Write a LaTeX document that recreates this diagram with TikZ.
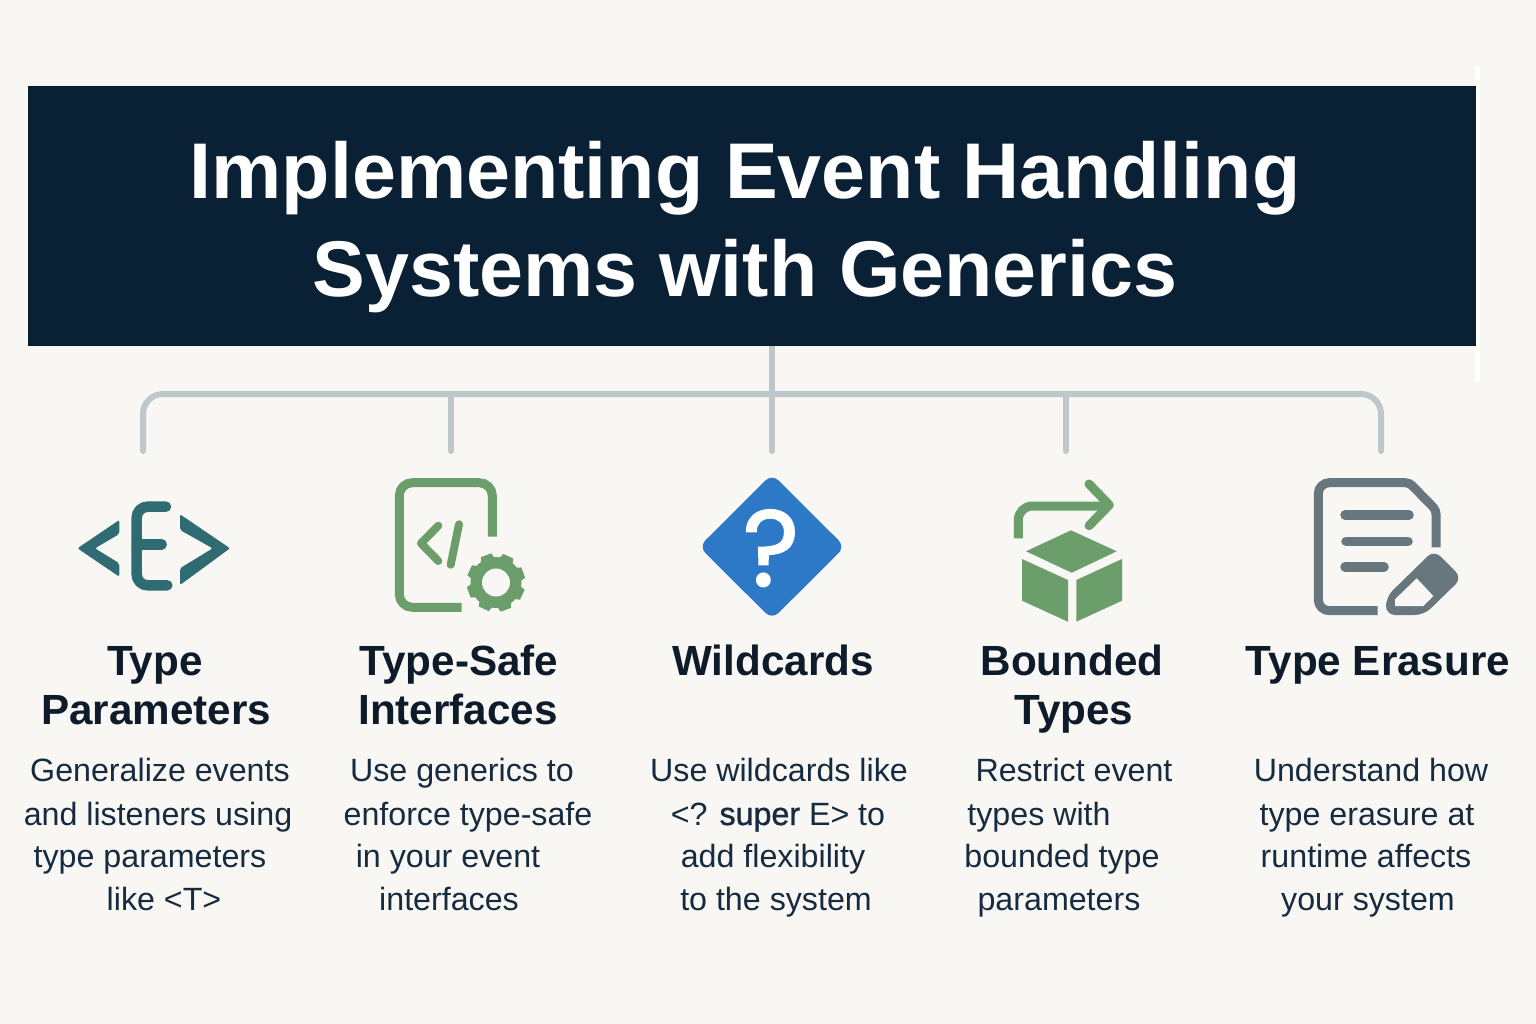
\documentclass[tikz,border=0pt]{standalone}
\usepackage{fontspec}
\setmainfont{Liberation Sans}
\newfontfamily\semibold[FakeBold=1]{Liberation Sans}
\newfontfamily\roundbold[FakeBold=1.5]{Poppins}
\definecolor{bgc}{HTML}{F8F7F3}
\definecolor{navy}{HTML}{0A2035}
\definecolor{navyedge}{HTML}{051626}
\definecolor{linkc}{HTML}{BEC7CC}
\definecolor{teal}{HTML}{2F6B73}
\definecolor{leaf}{HTML}{6B9E6B}
\definecolor{azure}{HTML}{2E78C8}
\definecolor{slate}{HTML}{68777E}
\definecolor{ink}{HTML}{0D1B2A}
\definecolor{bodyc}{HTML}{172B40}
\tikzset{
  titletext/.style={anchor=base,inner sep=0pt,text=white,font=\fontsize{79}{90}\selectfont\bfseries},
  headtext/.style={anchor=base,inner sep=0pt,text=ink,font=\fontsize{42.2}{50}\selectfont\bfseries},
  bodytext/.style={anchor=base,inner sep=0pt,text=bodyc,font=\fontsize{32.2}{40}\selectfont},
  link/.style={draw=linkc,line width=6pt,line cap=round},
}
\begin{document}
\begin{tikzpicture}[x=1pt,y=-1pt]
\useasboundingbox (0,0) rectangle (1536,1024);
\fill[bgc] (0,0) rectangle (1536,1024);
% title
\fill[white] (1475,66) rectangle (1480,382);
\node[fill=navy,minimum width=1448pt,minimum height=260pt,inner sep=0pt] (title) at (752,216) {};
\draw[navyedge,line width=1.5pt] ([yshift=-0.75pt]title.north west) -- ([yshift=-0.75pt]title.north east);
\draw[navyedge,line width=1.5pt] ([yshift=0.75pt]title.south west) -- ([yshift=0.75pt]title.south east);
\node[titletext] (t1) at (745,199) {Implementing Event Handling};
\node[titletext] (t2) at (745,296) {Systems with Generics};
% connectors
\coordinate (hub) at (772,394);
\coordinate (b1) at (143,451);
\coordinate (b2) at (451,451);
\coordinate (b3) at (772,451);
\coordinate (b4) at (1066,451);
\coordinate (b5) at (1381,451);
\draw[link,rounded corners=20pt] (b1) |- (hub) -| (b5);
\draw[link,line cap=butt] (title.south -| hub) -- (hub);
\draw[link] (b2 |- hub) -- (b2);
\draw[link] (hub) -- (b3);
\draw[link] (b4 |- hub) -- (b4);
% E icon
\fill[teal,rounded corners=2pt] (119.3,520) -- (77.5,548.3) -- (119.3,576.7) -- (119.3,563.3) -- (95,548.3) -- (119.3,534) -- cycle;
\fill[teal,rounded corners=2pt] (180,514.3) -- (230,548.3) -- (180,585) -- (180,568.3) -- (212.7,548.3) -- (180,530) -- cycle;
\draw[teal,line width=10.5pt,line cap=round,rounded corners=11pt] (166,506.7) -- (136.7,506.7) -- (136.7,585.3) -- (167.3,585.3);
\draw[teal,line width=10.5pt,line cap=round] (136.7,544.3) -- (161.7,544.3);
% code document icon
\draw[leaf,line width=9pt,rounded corners=13pt] (461.7,607.3) -- (399.3,607.3) -- (399.3,482.7) -- (492.3,482.7) -- (492.3,536.7);
\draw[leaf,line width=8pt,line cap=round,line join=round] (438.3,525.7) -- (421,543.3) -- (438.3,561);
\draw[leaf,line width=8pt,line cap=round] (459,524.3) -- (450.7,564.7);
\fill[leaf] (496,582.5) circle (25.5pt);
\foreach \a in {0,45,...,315}{
  \fill[leaf,rotate around={\a+20:(496,582.5)}] (490.5,553.5) -- (501.5,553.5) -- (504,562) -- (488,562) -- cycle;
}
\fill[bgc] (496,582.5) circle (14pt);
% diamond icon
\fill[azure,rounded corners=9pt] (772,474) -- (845,546.7) -- (772,619.4) -- (699,546.7) -- cycle;
\node[anchor=base,inner sep=0pt,text=white,font=\fontsize{108}{110}\selectfont\roundbold] (qm) at (771,586) {?};
% bounded type icon
\draw[leaf,line width=9pt,rounded corners=14pt] (1018.3,538.3) -- (1018.3,506) -- (1106,506);
\draw[leaf,line width=9pt,line cap=round,line join=round] (1089,484) -- (1109.3,505) -- (1089,525.7);
\fill[leaf] (1071,530.3) -- (1116.7,551.3) -- (1071.7,572.7) -- (1026,551.3) -- cycle;
\fill[leaf] (1022,559) -- (1068,580) -- (1068,621.7) -- (1022,600.7) -- cycle;
\fill[leaf] (1076.3,580) -- (1122,559) -- (1122,600.7) -- (1076.3,621.7) -- cycle;
% erasure icon
\draw[slate,line width=9pt] (1377.7,610.7) [rounded corners=11pt] -- (1318.3,610.7) -- (1318.3,482.7) [rounded corners=4pt] -- (1409.3,482.7) -- (1436,510) -- (1436,547.3);
\draw[slate,line width=9.5pt,line cap=round] (1345,515) -- (1409,515);
\draw[slate,line width=9.5pt,line cap=round] (1346,541.3) -- (1408,541.3);
\draw[slate,line width=9.5pt,line cap=round] (1345,567) -- (1384,567);
\fill[slate,rounded corners=9pt] (1386,615) -- (1386,597) -- (1434,550) -- (1462,578) -- (1424,615) -- cycle;
\fill[bgc] (1416.7,578.3) -- (1433.3,596) -- (1423.3,606) -- (1395,606) -- (1395,599.3) -- cycle;
% headings
\node[headtext] (h1a) at (155,675) {Type};
\node[headtext] (h1b) at (156,724) {Parameters};
\node[headtext] (h2a) at (459,675) {Type-Safe};
\node[headtext] (h2b) at (458,724) {Interfaces};
\node[headtext] (h3a) at (773,675) {Wildcards};
\node[headtext] (h4a) at (1072,675) {Bounded};
\node[headtext] (h4b) at (1074,724) {Types};
\node[headtext] (h5a) at (1378,675) {Type Erasure};
% bodies
\node[bodytext] (c1a) at (160,781) {Generalize events};
\node[bodytext] (c1b) at (158,825) {and listeners using};
\node[bodytext] (c1c) at (150,867) {type parameters};
\node[bodytext] (c1d) at (164,910) {like <T>};
\node[bodytext] (c2a) at (462,781) {Use generics to};
\node[bodytext] (c2b) at (468,825) {enforce type-safe};
\node[bodytext] (c2c) at (448,867) {in your event};
\node[bodytext] (c2d) at (449,910) {interfaces};
\node[bodytext] (c3a) at (779,781) {Use wildcards like};
\node[bodytext] (c3b) at (778,825) {<? {\semibold super} E> to};
\node[bodytext] (c3c) at (773,867) {add flexibility};
\node[bodytext] (c3d) at (776,910) {to the system};
\node[bodytext] (c4a) at (1074,781) {Restrict event};
\node[bodytext] (c4b) at (1039,825) {types with};
\node[bodytext] (c4c) at (1062,867) {bounded type};
\node[bodytext] (c4d) at (1059,910) {parameters};
\node[bodytext] (c5a) at (1371,781) {Understand how};
\node[bodytext] (c5b) at (1367,825) {type erasure at};
\node[bodytext] (c5c) at (1366,867) {runtime affects};
\node[bodytext] (c5d) at (1368,910) {your system};
\end{tikzpicture}
\end{document}
